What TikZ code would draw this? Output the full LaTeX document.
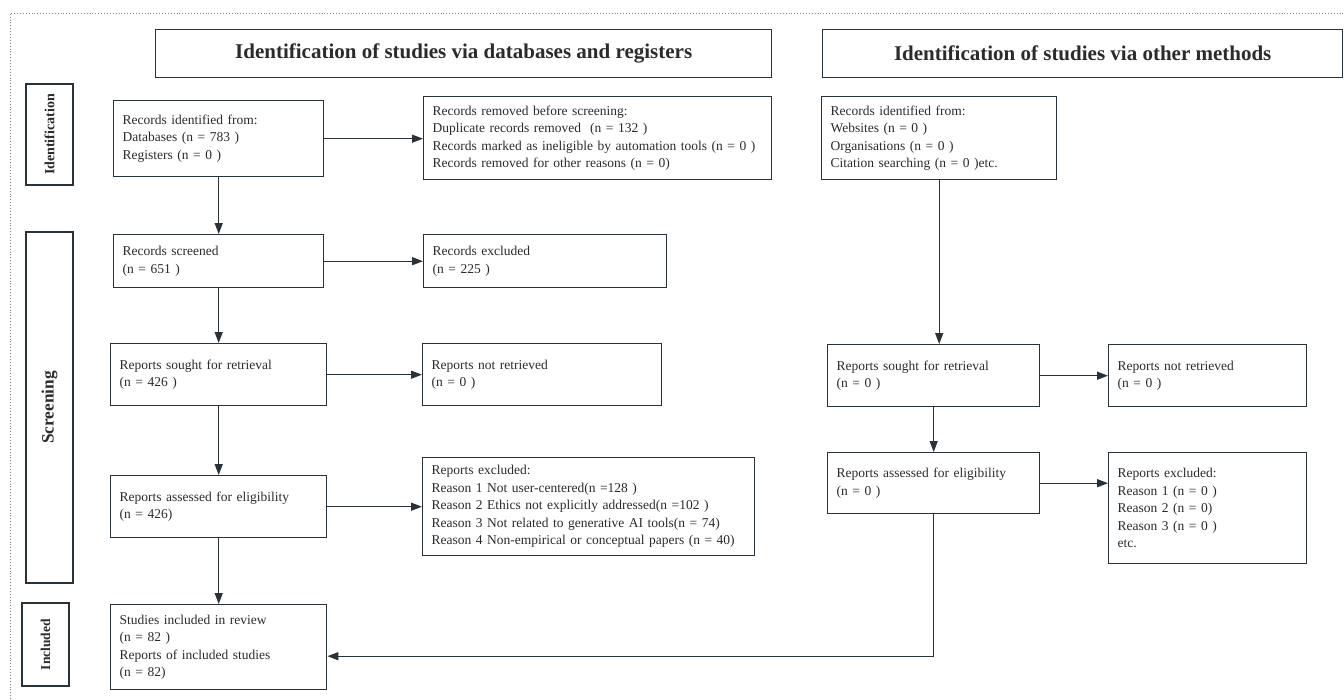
\documentclass[tikz,border=0pt]{standalone}
\usepackage{fontspec}
\setmainfont{Liberation Serif}
\usetikzlibrary{arrows.meta}
\definecolor{lineC}{HTML}{27323A}
\definecolor{textC}{HTML}{2B2B2B}
\begin{document}
\begin{tikzpicture}[x=1pt,y=-1pt,boxS/.style={draw=lineC,line width=1.4pt,anchor=north west,align=left,inner xsep=9pt,text=textC,font=\fontsize{13.5}{17.5}\selectfont},titleS/.style={draw=lineC,line width=1.4pt,anchor=north west,text=textC,font=\fontsize{21}{25}\selectfont\bfseries},phaseS/.style={draw=lineC,line width=1.4pt,rotate=90,text=textC,minimum height=47pt},arrS/.style={draw=lineC,line width=1.4pt,-{Triangle[length=11pt,width=8pt,fill=lineC]}}]
\useasboundingbox (0,0) rectangle (1344,699);
\draw[gray,dotted,line width=0.9pt] (10,699) -- (10,13) -- (1344,13);

% headers and phases
\node[titleS,minimum width=616pt,minimum height=48pt] (T1) at (155,29) {Identification of studies via databases and registers};
\node[titleS,minimum width=520pt,minimum height=48pt] (T2) at (822,29) {Identification of studies via other methods};
\node[phaseS,minimum width=101pt,font=\fontsize{14}{16}\selectfont\bfseries] (P1) at (49.5,134.5) {Identification};
\node[phaseS,minimum width=351pt,font=\fontsize{17.3}{20}\selectfont\bfseries] (P2) at (49.5,407.5) {Screening};
\node[phaseS,minimum width=83pt,font=\fontsize{13.5}{16}\selectfont\bfseries] (P3) at (45.5,644.5) {Included};

% databases and registers
\node[boxS,text width=192pt,minimum height=76pt] (B1) at (113,100) {Records identified from:\\Databases (n = 783 )\\Registers (n = 0 )};
\node[boxS,text width=330pt,minimum height=83pt] (B2) at (423,96) {Records removed before screening:\\Duplicate records removed~ (n = 132 )\\Records marked as ineligible by automation tools (n = 0 )\\Records removed for other reasons (n = 0)};
\node[boxS,text width=192pt,minimum height=53pt] (B3) at (113,234) {Records screened\\(n = 651 )};
\node[boxS,text width=225pt,minimum height=53pt] (B4) at (423,234) {Records excluded\\(n = 225 )};
\node[boxS,text width=198pt,minimum height=62pt] (B5) at (110,343) {Reports sought for retrieval\\(n = 426 )};
\node[boxS,text width=221pt,minimum height=62pt] (B6) at (422,343) {Reports not retrieved\\(n = 0 )};
\node[boxS,text width=198pt,minimum height=62pt] (B7) at (110,475) {Reports assessed for eligibility\\(n = 426)};
\node[boxS,text width=314pt,minimum height=98pt] (B8) at (422,457) {Reports excluded:\\Reason 1 Not user-centered(n =128 )\\Reason 2 Ethics not explicitly addressed(n =102 )\\Reason 3 Not related to generative AI tools(n = 74)\\Reason 4 Non-empirical or conceptual papers (n = 40)};
\node[boxS,text width=198pt,minimum height=85pt] (B9) at (110,604) {Studies included in review\\(n = 82 )\\Reports of included studies\\(n = 82)};

% other methods
\node[boxS,text width=217pt,minimum height=83pt] (R1) at (821,96) {Records identified from:\\Websites (n = 0 )\\Organisations (n = 0 )\\Citation searching (n = 0 )etc.};
\node[boxS,text width=194pt,minimum height=62pt] (R2) at (827,344) {Reports sought for retrieval\\(n = 0 )};
\node[boxS,text width=180pt,minimum height=62pt] (R3) at (1108,344) {Reports not retrieved\\(n = 0 )};
\node[boxS,text width=194pt,minimum height=61pt] (R4) at (827,452) {Reports assessed for eligibility\\(n = 0 )};
\node[boxS,text width=180pt,minimum height=111pt] (R5) at (1108,452) {Reports excluded:\\Reason 1 (n = 0 )\\Reason 2 (n = 0)\\Reason 3 (n = 0 )\\etc.};

\draw[arrS] (B1.east) -- (B1.east -| B2.west);
\draw[arrS] (B1.south) -- (B3.north);
\draw[arrS] (B3.east) -- (B3.east -| B4.west);
\draw[arrS] (B3.south) -- (B5.north);
\draw[arrS] (B5.east) -- (B5.east -| B6.west);
\draw[arrS] (B5.south) -- (B7.north);
\draw[arrS] (B7.east) -- (B7.east -| B8.west);
\draw[arrS] (B7.south) -- (B9.north);
\draw[arrS] (R1.south) -- (R1.south |- R2.north);
\draw[arrS] (R2.east) -- (R2.east -| R3.west);
\draw[arrS] (R2.south) -- (R4.north);
\draw[arrS] (R4.east) -- (R4.east -| R5.west);
\draw[arrS] (R4.south) |- ([yshift=-9pt]B9.east);
\end{tikzpicture}
\end{document}
